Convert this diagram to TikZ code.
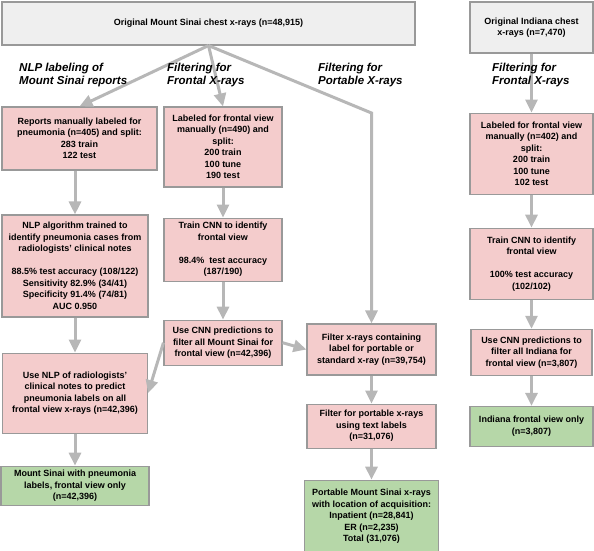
\documentclass[tikz,border=0pt]{standalone}
\usepackage{fontspec}
\setmainfont{Liberation Sans}
\usetikzlibrary{positioning,arrows.meta}
\definecolor{boxline}{HTML}{999999}
\definecolor{topfill}{HTML}{EFEFEF}
\definecolor{pinkfill}{HTML}{F4CCCC}
\definecolor{greenfill}{HTML}{B6D7A8}
\definecolor{arrowgray}{HTML}{B7B7B7}

\begin{document}
\begin{tikzpicture}[x=1pt, y=-1pt,
  box/.style={draw=boxline, line width=1.1pt, align=center, inner sep=2pt,
    font=\fontsize{9}{11.5}\selectfont\bfseries},
  greybox/.style={box, fill=topfill},
  pinkbox/.style={box, fill=pinkfill},
  greenbox/.style={box, fill=greenfill},
  stage/.style={align=left, inner sep=0pt, anchor=north west,
    font=\fontsize{11.5}{13.5}\selectfont\bfseries\itshape},
  flow/.style={color=arrowgray, line width=3pt, -{Triangle[width=12pt,length=13pt]}}]
  \useasboundingbox (0,0) rectangle (594,551);

  % Mount Sinai
  \node [greybox, minimum width=413pt, minimum height=43pt] (mstop) at (208.5,23.5)
    {Original Mount Sinai chest x-rays (n=48,915)};
  \node [pinkbox, minimum width=155pt, minimum height=63pt] (msreports) at (79.5,138.5)
    {Reports manually labeled for\\pneumonia (n=405) and split:\\283 train\\122 test};
  \node [pinkbox, minimum width=146pt, minimum height=102pt] (msnlp) at (75,266)
    {NLP algorithm trained to\\identify pneumonia cases from\\radiologists' clinical notes\\[11.5pt]
     88.5\% test accuracy (108/122)\\Sensitivity 82.9\% (34/41)\\Specificity 91.4\% (74/81)\\AUC 0.950};
  \node [pinkbox, minimum width=145pt, minimum height=80pt] (msusenlp) [below=35pt of msnlp]
    {Use NLP of radiologists'\\clinical notes to predict\\pneumonia labels on all\\frontal view x-rays (n=42,396)};
  \node [greenbox, minimum width=148pt, minimum height=39pt] (mspneu) [below=32pt of msusenlp]
    {Mount Sinai with pneumonia\\labels, frontal view only\\(n=42,396)};

  \node [pinkbox, minimum width=118pt, minimum height=80pt] (mslabeled) at (223,147)
    {Labeled for frontal view\\manually (n=490) and\\split:\\200 train\\100 tune\\190 test};
  \node [pinkbox, minimum width=118pt, minimum height=63pt] (mstrain) [below=30pt of mslabeled]
    {Train CNN to identify\\frontal view\\[11.5pt]98.4\%~~test accuracy\\(187/190)};
  \node [pinkbox, minimum width=118pt, minimum height=45pt] (msusecnn) [below=38pt of mstrain]
    {Use CNN predictions to\\filter all Mount Sinai for\\frontal view (n=42,396)};

  \node [pinkbox, minimum width=129pt, minimum height=51pt] (msfilter) at (371.5,349.5)
    {Filter x-rays containing\\label for portable or\\standard x-ray (n=39,754)};
  \node [pinkbox, minimum width=129pt, minimum height=44pt] (msportable) [below=28pt of msfilter]
    {Filter for portable x-rays\\using text labels\\(n=31,076)};
  \node [greenbox, minimum width=134pt, minimum height=72pt] (msfinal) [below=31pt of msportable]
    {Portable Mount Sinai x-rays\\with location of acquisition:\\Inpatient (n=28,841)\\ER (n=2,235)\\Total (31,076)};
  \coordinate (msbend) at (371.5,113);

  % Indiana
  \node [greybox, minimum width=123pt, minimum height=51pt] (intop) at (531.5,27.5)
    {Original Indiana chest\\x-rays (n=7,470)};
  \node [pinkbox, minimum width=123pt, minimum height=81pt] (inlabeled) [below=59pt of intop]
    {Labeled for frontal view\\manually (n=402) and\\split:\\200 train\\100 tune\\102 test};
  \node [pinkbox, minimum width=123pt, minimum height=71pt] (intrain) [below=33pt of inlabeled]
    {Train CNN to identify\\frontal view\\[11.5pt]100\% test accuracy\\(102/102)};
  \node [pinkbox, minimum width=121pt, minimum height=46pt] (inusecnn) [below=29pt of intrain]
    {Use CNN predictions to\\filter all Indiana for\\frontal view (n=3,807)};
  \node [greenbox, minimum width=123pt, minimum height=40pt] (infinal) [below=30pt of inusecnn]
    {Indiana frontal view only\\(n=3,807)};

  \path [flow]
    (mstop.south) edge (msreports.north)
    (mstop.south) edge (mslabeled.north)
    (msnlp.north |- msreports.south) edge (msnlp.north)
    (msnlp) edge (msusenlp)
    (msusenlp) edge (mspneu)
    (mslabeled) edge (mstrain)
    (mstrain) edge (msusecnn)
    (msusecnn.west) edge (msusenlp.east)
    (msusecnn.east) edge (msfilter.west)
    (msfilter) edge (msportable)
    (msportable) edge (msfinal)
    (intop) edge (inlabeled)
    (inlabeled) edge (intrain)
    (intrain) edge (inusecnn)
    (inusecnn) edge (infinal)
  ;
  \draw [flow] (mstop.south) -- (msbend) -- (msfilter.north);

  \node [stage] (nlplabel) at (19,62.5) {NLP labeling of\\Mount Sinai reports};
  \node [stage] (msfrontlabel) at (167,62.5) {Filtering for\\Frontal X-rays};
  \node [stage] (portlabel) at (318,62.5) {Filtering for\\Portable X-rays};
  \node [stage] (infrontlabel) at (492,62.5) {Filtering for\\Frontal X-rays};
\end{tikzpicture}
\end{document}
